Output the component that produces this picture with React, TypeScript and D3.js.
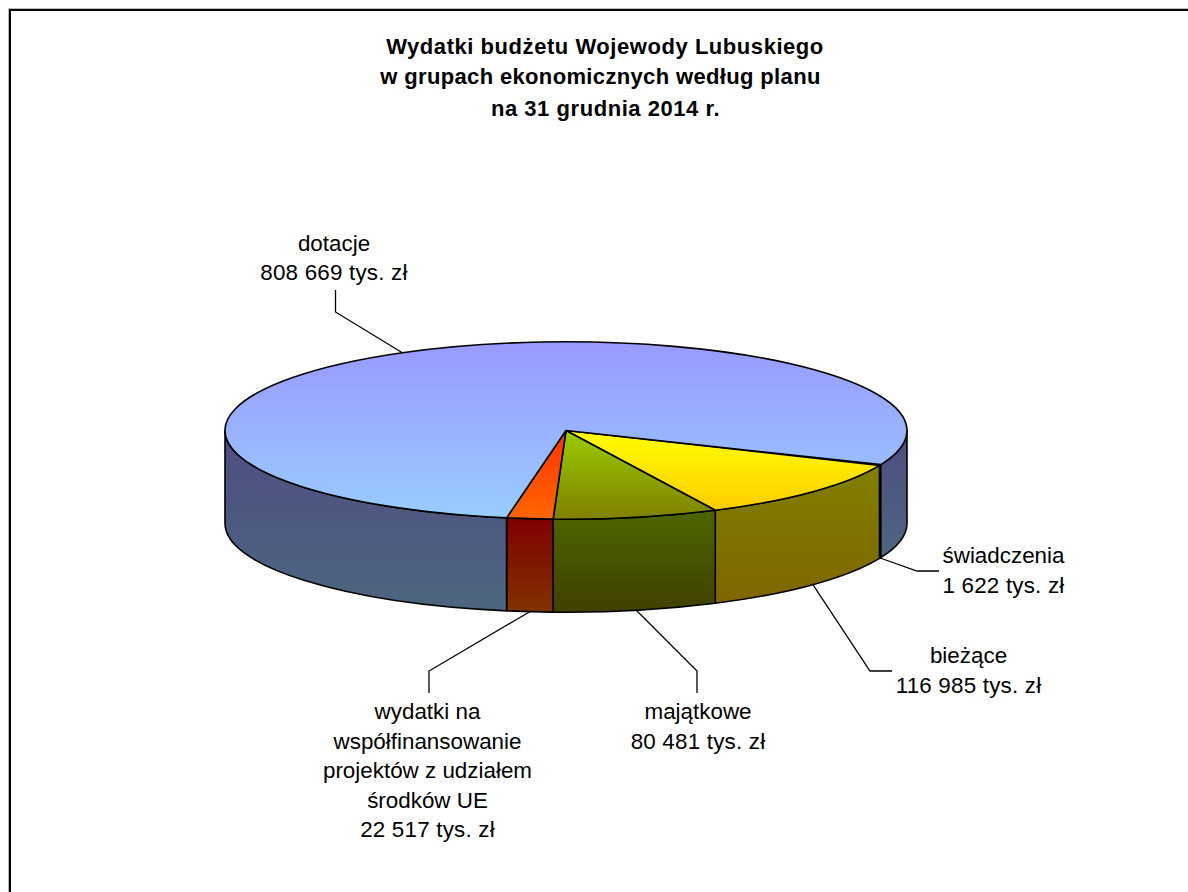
import React from "react";
import * as d3 from "d3";

const titleLines = ["Wydatki budżetu Wojewody Lubuskiego", "w grupach ekonomicznych według planu", "na 31 grudnia 2014 r."];
const categories = ["świadczenia", "bieżące", "majątkowe", "wydatki", "dotacje"];
const values = [1622, 116985, 80481, 22517, 808669];
const valueLabels = ["1 622 tys. zł", "116 985 tys. zł", "80 481 tys. zł", "22 517 tys. zł", "808 669 tys. zł"];
const nameLines = [["świadczenia"], ["bieżące"], ["majątkowe"], ["wydatki na", "współfinansowanie", "projektów z udziałem", "środków UE"], ["dotacje"]];
const topColors = [["#CC99FF", "#FF99CC"], ["#FFFF00", "#FFCC00"], ["#99CC00", "#808000"], ["#FF3300", "#FF6600"], ["#9999FF", "#99CCFF"]];
const wallColors = [["#664D80", "#804D66"], ["#808000", "#806600"], ["#4D6600", "#404000"], ["#800000", "#803300"], ["#4D4D80", "#4D6680"]];

const cx = 566, cy = 430.5, rx = 341, ry = 88.7, depth = 93;
const startDeg = 112.6;
const FONT = "'Liberation Sans', Arial, sans-serif";

// label layout: text centre, first baseline, leader bend point and leader end
const labelLayout = [
  { x: 1003.5, y: 563, bend: [917, 571], end: [939, 571] },
  { x: 968.5, y: 663, bend: [870, 671], end: [892, 671] },
  { x: 698, y: 719, bend: [697, 671], end: [697, 693] },
  { x: 427.5, y: 719, bend: [429, 671], end: [429, 693] },
  { x: 334, y: 250.5, bend: [335.5, 312], end: [335.5, 290] },
];
const titleBaselines = [54, 84, 116];
const titleCentres = [605, 600.5, 605.5];
const titleSpacing = [0.55, 0.35, 0.55];

const pt = (t: number, dy = 0): [number, number] => [cx + rx * Math.cos(t), cy + dy + ry * Math.sin(t)];

function topPath(t0: number, t1: number) {
  const [x0, y0] = pt(t0), [x1, y1] = pt(t1);
  const large = t1 - t0 > Math.PI ? 1 : 0;
  return `M${cx},${cy}L${x0},${y0}A${rx},${ry} 0 ${large} 1 ${x1},${y1}Z`;
}
function wallPath(t0: number, t1: number) {
  const [x0, y0] = pt(t0), [x1, y1] = pt(t1);
  const [x2, y2] = pt(t1, depth), [x3, y3] = pt(t0, depth);
  return `M${x0},${y0}A${rx},${ry} 0 0 1 ${x1},${y1}L${x2},${y2}A${rx},${ry} 0 0 0 ${x3},${y3}Z`;
}
// visible (front-facing) parts of a slice: t in [0,PI] modulo 2PI
function visibleParts(t0: number, t1: number) {
  const parts: [number, number][] = [];
  for (let k = 0; k <= 1; k++) {
    const a = Math.max(t0, k * 2 * Math.PI), b = Math.min(t1, k * 2 * Math.PI + Math.PI);
    if (b > a) parts.push([a, b]);
  }
  return parts;
}

export default function App() {
  const start = (startDeg * Math.PI) / 180;
  const arcs = d3.pie<number>().sort(null).startAngle(start).endAngle(start + 2 * Math.PI)(values);
  // d3.pie angles run clockwise from 12 o'clock; the ellipse parameter runs clockwise from 3 o'clock
  const slices = arcs.map((a, i) => ({ i, t0: a.startAngle - Math.PI / 2, t1: a.endAngle - Math.PI / 2 }));

  return (
    <svg width={1188} height={892} style={{ position: "absolute", left: 0, top: 0, display: "block", background: "#fff" }} fontFamily={FONT}>
      <defs>
        {topColors.map((c, i) => (
          <linearGradient key={i} id={`top${i}`} x1="0" y1="0" x2="0" y2="1">
            <stop offset="0" stopColor={c[0]} />
            <stop offset="1" stopColor={c[1]} />
          </linearGradient>
        ))}
        {wallColors.map((c, i) => (
          <linearGradient key={i} id={`wall${i}`} x1="0" y1="0" x2="0" y2="1">
            <stop offset="0" stopColor={c[0]} />
            <stop offset="1" stopColor={c[1]} />
          </linearGradient>
        ))}
      </defs>

      <path d="M8.5,892V8.5H1188" fill="none" stroke="#bbb" strokeWidth={1} />
      <path d="M10,892V10H1188" fill="none" stroke="#000" strokeWidth={2} />

      {slices.map((s) => visibleParts(s.t0, s.t1).map(([a, b], k) => (
        <path key={`w${s.i}-${k}`} d={wallPath(a, b)} fill={`url(#wall${s.i})`} stroke="#000" strokeWidth={1.6} strokeLinejoin="round" />
      )))}
      {slices.map((s) => (
        <path key={`t${s.i}`} d={topPath(s.t0, s.t1)} fill={`url(#top${s.i})`} stroke="#000" strokeWidth={1.6} strokeLinejoin="round" />
      ))}

      {slices.map((s) => {
        const mid = (s.t0 + s.t1) / 2;
        const front = Math.sin(mid) > 0;
        const p = pt(mid, front ? depth : 0);
        const l = labelLayout[s.i];
        return (
          <polyline key={`l${s.i}`} points={`${p[0]},${p[1]} ${l.bend[0]},${l.bend[1]} ${l.end[0]},${l.end[1]}`} fill="none" stroke="#000" strokeWidth={1.3} />
        );
      })}

      {categories.map((_, i) => {
        const l = labelLayout[i];
        const lines = [...nameLines[i], valueLabels[i]];
        return lines.map((t, k) => (
          <text key={`${i}-${k}`} x={l.x} y={l.y + k * 29.6} textAnchor="middle" fontSize={22.4} fill="#000" letterSpacing={k === lines.length - 1 ? 0.2 : 0}>{t}</text>
        ));
      })}

      {titleLines.map((t, i) => (
        <text key={i} x={titleCentres[i]} y={titleBaselines[i]} textAnchor="middle" fontSize={22} fontWeight="bold" fill="#000" letterSpacing={titleSpacing[i]}>{t}</text>
      ))}
    </svg>
  );
}
